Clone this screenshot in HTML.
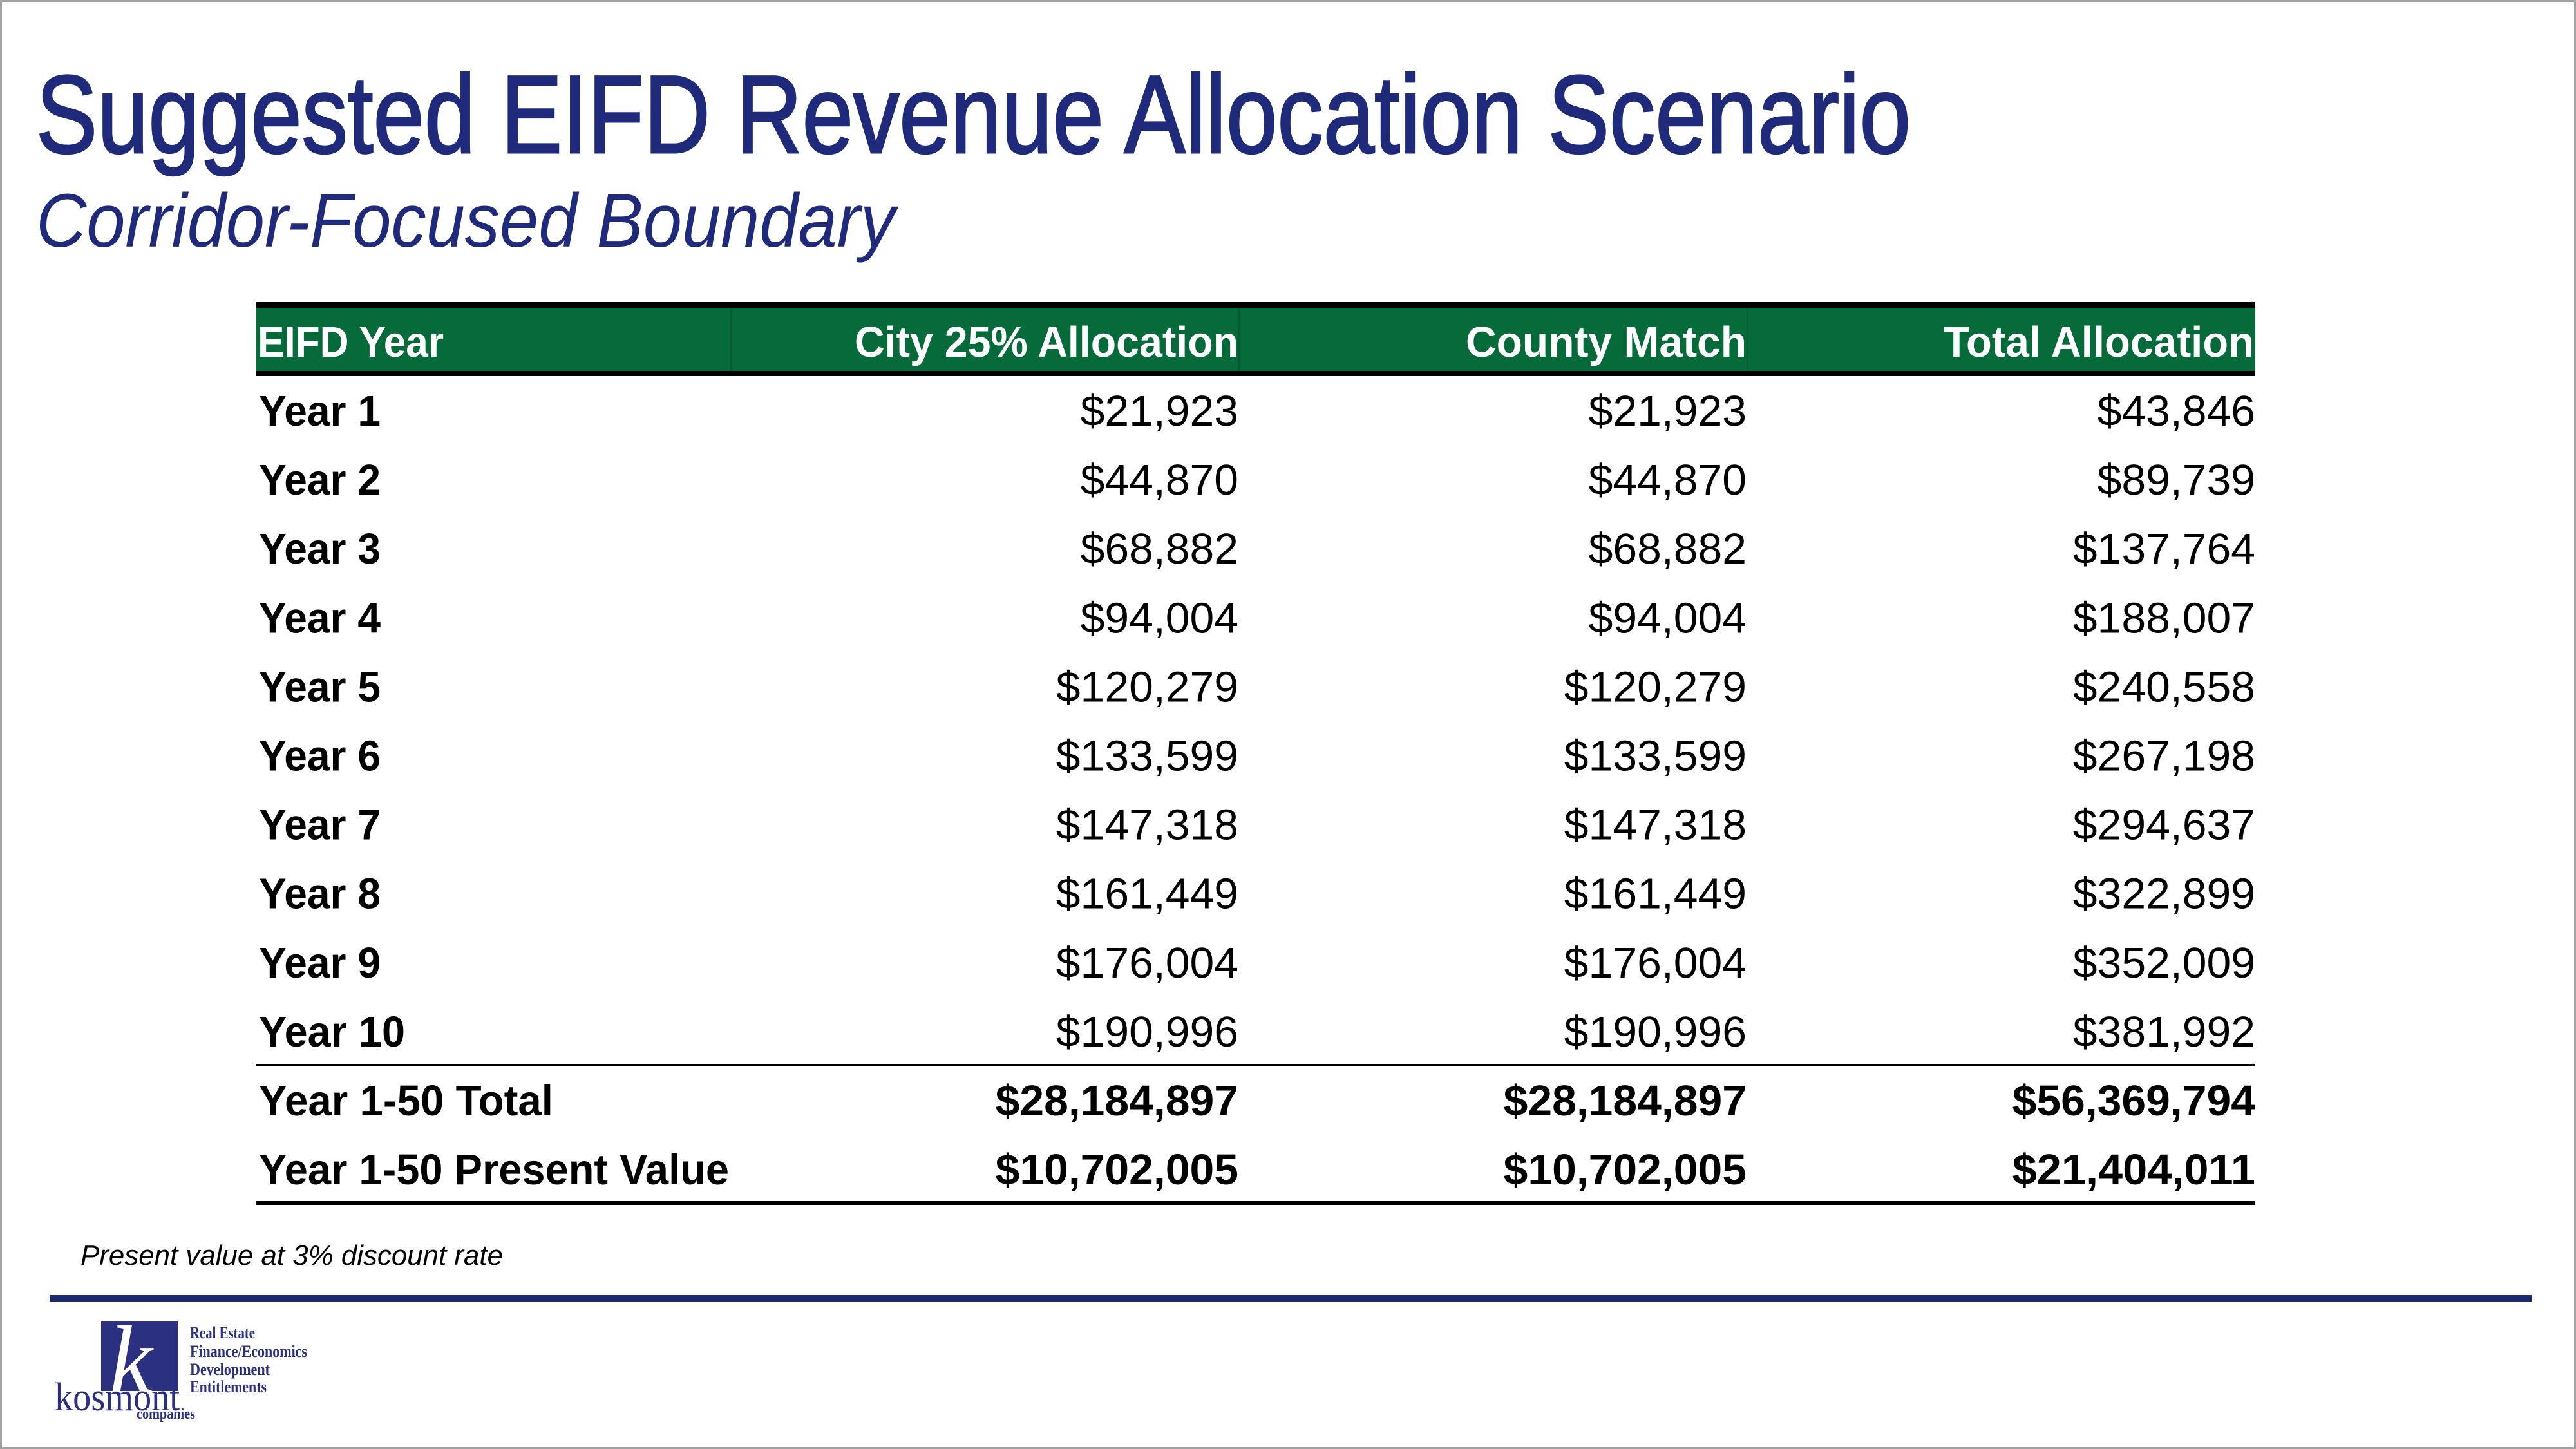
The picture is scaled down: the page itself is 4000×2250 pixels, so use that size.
<!DOCTYPE html>
<html><head><meta charset="utf-8"><style>html,body{margin:0;padding:0;background:#fff}svg{display:block}</style></head>
<body>
<svg id="s" width="4000" height="2250" viewBox="0 0 4000 2250" xmlns="http://www.w3.org/2000/svg">
<rect x="0" y="0" width="4000" height="2250" fill="#fff" stroke="#a0a0a0" stroke-width="6"/>
<text x="56" y="237" font-family="Liberation Sans, sans-serif" font-size="172" fill="#1f2a7a" stroke="#1f2a7a" stroke-width="3" textLength="2911" lengthAdjust="spacingAndGlyphs">Suggested EIFD Revenue Allocation Scenario</text>
<text x="56" y="383" font-family="Liberation Sans, sans-serif" font-style="italic" font-size="118" fill="#1f2a7a" textLength="1334" lengthAdjust="spacingAndGlyphs">Corridor-Focused Boundary</text>
<g id="tbl">
<rect x="398" y="469" width="3104" height="9" fill="#000"/>
<rect x="398" y="478" width="3104" height="98" fill="#066a3a"/>
<rect x="1134" y="478" width="2" height="98" fill="#055a31"/>
<rect x="1923" y="478" width="2" height="98" fill="#055a31"/>
<rect x="2712" y="478" width="2" height="98" fill="#055a31"/>
<rect x="398" y="576" width="3104" height="8" fill="#000"/>
<rect x="398" y="1652" width="3104" height="3" fill="#000"/>
<rect x="398" y="1865" width="3104" height="6" fill="#000"/>
<g font-family="Liberation Sans, sans-serif" font-weight="bold" font-size="67" fill="#fff">
<text x="400" y="554" textLength="289" lengthAdjust="spacingAndGlyphs">EIFD Year</text>
<text x="1327" y="554" textLength="596" lengthAdjust="spacingAndGlyphs">City 25% Allocation</text>
<text x="2276" y="554" textLength="436" lengthAdjust="spacingAndGlyphs">County Match</text>
<text x="3018" y="554" textLength="482" lengthAdjust="spacingAndGlyphs">Total Allocation</text>
</g>
</g>
<text x="125" y="1964" font-family="Liberation Sans, sans-serif" font-style="italic" font-size="44" fill="#000" textLength="656" lengthAdjust="spacingAndGlyphs">Present value at 3% discount rate</text>
<rect x="77" y="2011" width="3854" height="10" fill="#1b2a6e"/>
<g>
<rect x="157" y="2052" width="120" height="108" fill="#2b3080"/>
<text x="170" y="2162" font-family="Liberation Serif, serif" font-style="italic" font-size="150" fill="#fff">k</text>
<text x="85" y="2190" font-family="Liberation Serif, serif" font-size="62" fill="#2b3080" textLength="194" lengthAdjust="spacingAndGlyphs">kosmont</text>
<text x="212" y="2203" font-family="Liberation Serif, serif" font-weight="bold" font-size="24" fill="#2b3080" textLength="91" lengthAdjust="spacingAndGlyphs">companies</text>
<g font-family="Liberation Serif, serif" font-weight="bold" font-size="26" fill="#2b3080">
<text x="295" y="2078" textLength="101" lengthAdjust="spacingAndGlyphs">Real Estate</text>
<text x="295" y="2107" textLength="182" lengthAdjust="spacingAndGlyphs">Finance/Economics</text>
<text x="295" y="2135" textLength="124" lengthAdjust="spacingAndGlyphs">Development</text>
<text x="295" y="2162" textLength="119" lengthAdjust="spacingAndGlyphs">Entitlements</text>
</g>
</g>
</svg>
<script>
const rowLabels = ["Year 1","Year 2","Year 3","Year 4","Year 5","Year 6","Year 7","Year 8","Year 9","Year 10","Year 1-50 Total","Year 1-50 Present Value"];
const cityValues = [21923,44870,68882,94004,120279,133599,147318,161449,176004,190996,28184897,10702005];
const countyValues = [21923,44870,68882,94004,120279,133599,147318,161449,176004,190996,28184897,10702005];
const totalValues = [43846,89739,137764,188007,240558,267198,294637,322899,352009,381992,56369794,21404011];
const labelLengths = [189,189,189,189,189,189,189,189,189,227,457,730];
const NS = "http://www.w3.org/2000/svg";
const tbl = document.getElementById("tbl");
function fmt(v){return "$" + v.toLocaleString("en-US");}
function valLen(s){let w=0;for(const c of s){w += (c===",")?18.6:37.8;}return w;}
function addText(str, x, y, anchorEnd, len, bold){
  const t = document.createElementNS(NS,"text");
  t.setAttribute("x", anchorEnd ? x - len : x);
  t.setAttribute("y", y);
  t.setAttribute("font-family","Liberation Sans, sans-serif");
  t.setAttribute("font-size","67");
  if (bold) t.setAttribute("font-weight","bold");
  t.setAttribute("fill","#000");
  t.setAttribute("textLength", len);
  t.setAttribute("lengthAdjust","spacingAndGlyphs");
  t.textContent = str;
  tbl.appendChild(t);
  return t;
}
const rowY = i => 661 + i * 107.1;
const colRight = [1923, 2712, 3502];
rowLabels.forEach((lab, i) => {
  const y = rowY(i);
  const totalRow = i >= 10;
  const l = addText(lab, 402, y, false, labelLengths[i], true);
  
  
  [cityValues[i], countyValues[i], totalValues[i]].forEach((v, c) => {
    const s = fmt(v);
    const t = addText(s, colRight[c], y, true, valLen(s), totalRow);
    
    
  });
});
</script>
</body></html>
